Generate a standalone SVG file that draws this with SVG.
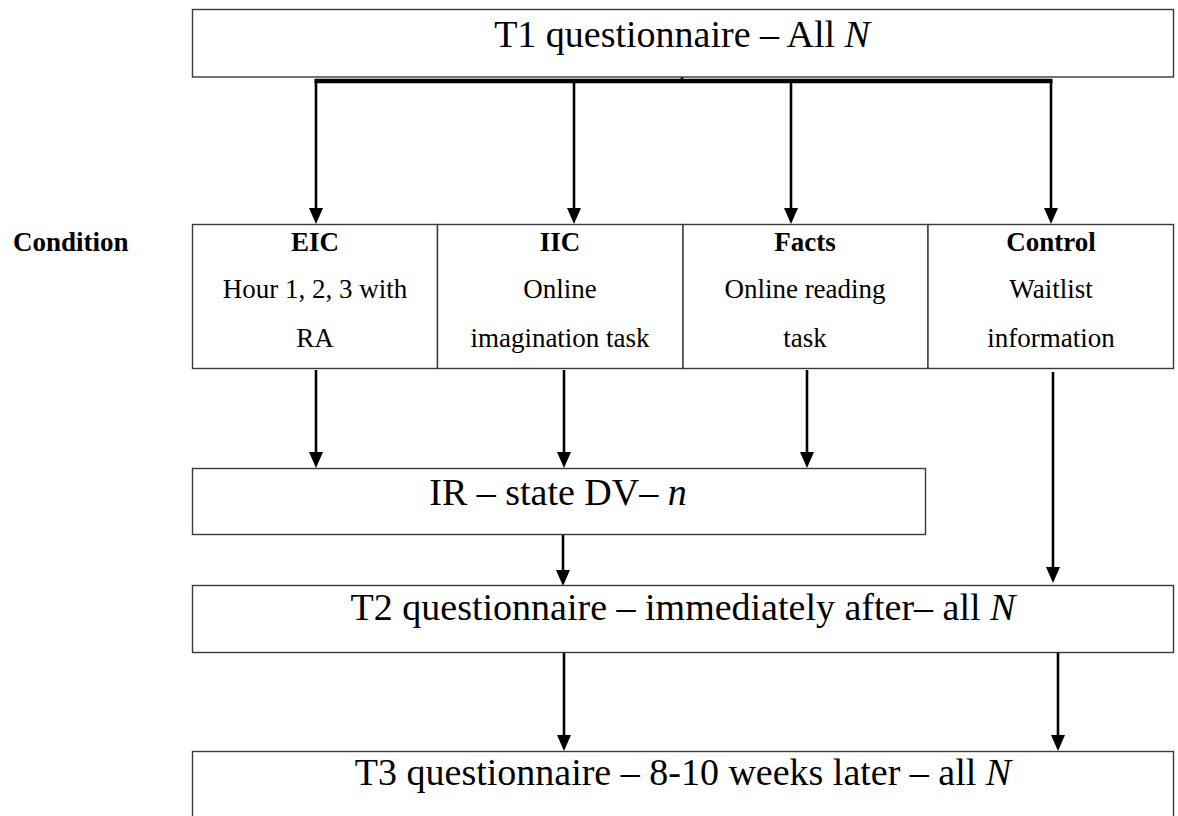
<svg xmlns="http://www.w3.org/2000/svg" width="1178" height="816" viewBox="0 0 1178 816">
  <style>
    .box { fill: #ffffff; stroke: #3a3a3a; stroke-width: 1.4; }
    .big { font-family: "Liberation Serif", "Times New Roman", serif; font-size: 38px; fill: #000; text-anchor: middle; }
    .sm { font-family: "Liberation Serif", "Times New Roman", serif; font-size: 27px; fill: #000; text-anchor: middle; }
    .b { font-weight: bold; }
    .it { font-style: italic; }
    .arr { stroke: #000; stroke-width: 2.6; fill: none; marker-end: url(#ah); }
    .ln { stroke: #000; fill: none; }
  </style>
  <defs>
    <marker id="ah" markerUnits="userSpaceOnUse" markerWidth="16" markerHeight="14" viewBox="0 0 16 14" refX="8" refY="7" orient="auto">
      <path d="M0,0 L16,7 L0,14 Z" fill="#000"/>
    </marker>
  </defs>
  <rect width="1178" height="816" fill="#ffffff"/>

  <g id="connectors">
    <line class="ln" x1="682" y1="53" x2="682" y2="81" stroke-width="2.6"/>
    <line class="ln" x1="314.5" y1="81" x2="1052.5" y2="81" stroke-width="4.5"/>
    <line class="arr" x1="316" y1="81" x2="316" y2="216"/>
    <line class="arr" x1="574" y1="81" x2="574" y2="216"/>
    <line class="arr" x1="791" y1="81" x2="791" y2="216"/>
    <line class="arr" x1="1051" y1="81" x2="1051" y2="216"/>
    <line class="arr" x1="316" y1="370" x2="316" y2="460"/>
    <line class="arr" x1="564" y1="370" x2="564" y2="460"/>
    <line class="arr" x1="807" y1="370" x2="807" y2="460"/>
    <line class="arr" x1="1053" y1="372" x2="1053" y2="575"/>
    <line class="arr" x1="563" y1="535" x2="563" y2="578"/>
    <line class="arr" x1="564" y1="653" x2="564" y2="743"/>
    <line class="arr" x1="1058" y1="653" x2="1058" y2="743"/>
  </g>

  <g id="t1">
    <rect class="box" x="192.5" y="9.5" width="981" height="67.5"/>
    <text class="big" x="682" y="47">T1 questionnaire – All <tspan class="it">N</tspan></text>
  </g>

  <g id="condition-label">
    <text class="sm b" x="13" y="251" style="text-anchor:start">Condition</text>
  </g>

  <g id="eic">
    <rect class="box" x="192.5" y="224.5" width="245" height="144"/>
    <text class="sm b" x="315" y="251">EIC</text>
    <text class="sm" x="315" y="298">Hour 1, 2, 3 with</text>
    <text class="sm" x="315" y="347">RA</text>
  </g>

  <g id="iic">
    <rect class="box" x="437.5" y="224.5" width="245.5" height="144"/>
    <text class="sm b" x="560" y="251">IIC</text>
    <text class="sm" x="560" y="298">Online</text>
    <text class="sm" x="560" y="347">imagination task</text>
  </g>

  <g id="facts">
    <rect class="box" x="683" y="224.5" width="245" height="144"/>
    <text class="sm b" x="805" y="251">Facts</text>
    <text class="sm" x="805" y="298">Online reading</text>
    <text class="sm" x="805" y="347">task</text>
  </g>

  <g id="control">
    <rect class="box" x="928" y="224.5" width="245.5" height="144"/>
    <text class="sm b" x="1051" y="251">Control</text>
    <text class="sm" x="1051" y="298">Waitlist</text>
    <text class="sm" x="1051" y="347">information</text>
  </g>

  <g id="ir">
    <rect class="box" x="192.5" y="468.5" width="733" height="66"/>
    <text class="big" x="558" y="505">IR – state DV– <tspan class="it">n</tspan></text>
  </g>

  <g id="t2">
    <rect class="box" x="192.5" y="585.5" width="981" height="67"/>
    <text class="big" x="683" y="620">T2 questionnaire – immediately after– all <tspan class="it">N</tspan></text>
  </g>

  <g id="t3">
    <rect class="box" x="192.5" y="751.5" width="981" height="80"/>
    <text class="big" x="683" y="785">T3 questionnaire – 8-10 weeks later – all <tspan class="it">N</tspan></text>
  </g>
</svg>
